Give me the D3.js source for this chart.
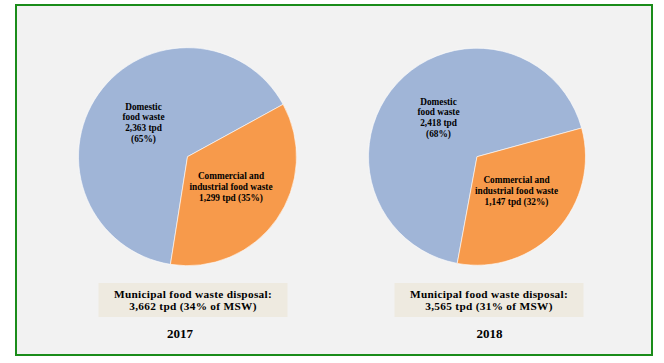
<!DOCTYPE html>
<html>
<head>
<meta charset="utf-8">
<script src="https://d3js.org/d3.v7.min.js"></script>
<style>
  body { margin: 0; background: #ffffff; }
  svg text { font-family: "Liberation Serif", "Times New Roman", serif; font-weight: bold; fill: #000; }
</style>
</head>
<body>
<div id="chart"></div>
<script>
// data
const years = ["2017", "2018"];
const categories = ["Domestic", "Commercial and industrial"];
const domestic = [2363, 2418];
const commercial = [1299, 1147];
const domesticPct = [65, 68];
const commercialPct = [35, 32];
const totals = [3662, 3565];
const mswPct = [34, 31];

const width = 664, height = 363;

const svg = d3.select("#chart")
  .append("svg")
  .attr("width", width)
  .attr("height", height);

svg.append("rect")
  .attr("x", 16)
  .attr("y", 5)
  .attr("width", 636)
  .attr("height", 350)
  .attr("fill", "#f2f2f2")
  .attr("stroke", "#1a8c1a")
  .attr("stroke-width", 2);

const color = d3.scaleOrdinal()
  .domain(categories)
  .range(["#a0b5d7", "#f79a4b"]);

const fmt = d3.format(",");

const pies = [
  { cx: 187.5, cy: 156.7, r: 109, start: 189 },
  { cx: 477, cy: 156.7, r: 108.5, start: 190.5 }
];

years.forEach(function(year, i) {
  const p = pies[i];
  const data = [
    { name: categories[0], value: domestic[i] },
    { name: categories[1], value: commercial[i] }
  ];

  const pie = d3.pie()
    .sort(null)
    .value(function(d) { return d.value; })
    .startAngle(p.start * Math.PI / 180)
    .endAngle((p.start + 360) * Math.PI / 180);

  const arc = d3.arc().innerRadius(0).outerRadius(p.r);

  const g = svg.append("g")
    .attr("transform", "translate(" + p.cx + "," + p.cy + ")");

  g.selectAll("path")
    .data(pie(data))
    .enter()
    .append("path")
    .attr("d", arc)
    .attr("fill", function(d) { return color(d.data.name); })
    .attr("stroke", "#ffffff")
    .attr("stroke-width", 0.6);

  // labels
  const domLines = ["Domestic", "food waste", fmt(domestic[i]) + " tpd", "(" + domesticPct[i] + "%)"];
  const comLines = ["Commercial and", "industrial food waste", fmt(commercial[i]) + " tpd (" + commercialPct[i] + "%)"];

  const domPos = i === 0 ? [-44, -47] : [-38.5, -52];
  const comPos = i === 0 ? [43.5, 22.5] : [39.5, 26];

  const dl = g.append("text")
    .attr("text-anchor", "middle")
    .style("font-size", "9.3px");
  domLines.forEach(function(t, j) {
    dl.append("tspan")
      .attr("x", domPos[0])
      .attr("y", domPos[1] + j * 10.6)
      .text(t);
  });

  const cl = g.append("text")
    .attr("text-anchor", "middle")
    .style("font-size", "9.3px");
  comLines.forEach(function(t, j) {
    cl.append("tspan")
      .attr("x", comPos[0])
      .attr("y", comPos[1] + j * 11)
      .text(t);
  });

  // summary box
  const bx = i === 0 ? 98.5 : 394.5;
  const bw = 189;
  svg.append("rect")
    .attr("x", bx)
    .attr("y", 283)
    .attr("width", bw)
    .attr("height", 34)
    .attr("fill", "#eeeae0");

  const st = svg.append("text")
    .attr("text-anchor", "middle")
    .style("font-size", "11.3px")
    .style("letter-spacing", "0.3px");
  st.append("tspan")
    .attr("x", bx + bw / 2)
    .attr("y", 297.5)
    .text("Municipal food waste disposal:");
  st.append("tspan")
    .attr("x", bx + bw / 2)
    .attr("y", 309.5)
    .text(fmt(totals[i]) + " tpd (" + mswPct[i] + "% of MSW)");

  svg.append("text")
    .attr("x", i === 0 ? 180 : 489.5)
    .attr("y", 338)
    .attr("text-anchor", "middle")
    .style("font-size", "13px")
    .text(year);
});
</script>
</body>
</html>
